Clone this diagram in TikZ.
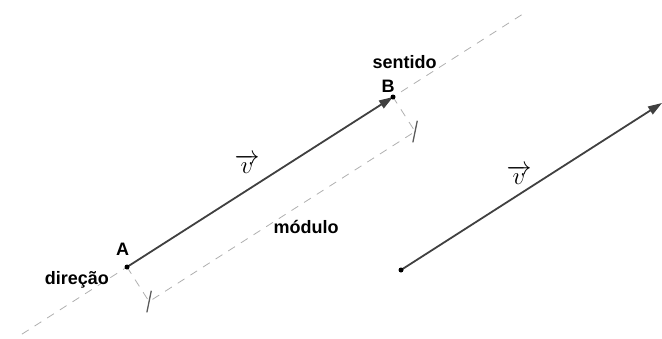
\documentclass[tikz,border=0pt]{standalone}
\usepackage{fontspec}
\newfontfamily\lblfont{Liberation Sans}
\definecolor{vecgray}{HTML}{404040}
\definecolor{dashgray}{HTML}{AFAFAF}
\definecolor{tickgray}{HTML}{5A5A5A}
\usetikzlibrary{arrows.meta,positioning,calc}

\begin{document}
\begin{tikzpicture}[x=1pt,y=-1pt,
  lbl/.style={font=\lblfont\bfseries\fontsize{18}{20}\selectfont,inner sep=0pt},
  vlbl/.style={font=\fontsize{24}{26}\selectfont,inner sep=0pt},
  vec/.style={draw=vecgray,line width=1.8pt,-{Triangle[length=14pt,width=9pt]}},
  guide/.style={draw=dashgray,line width=0.8pt,dash pattern=on 8pt off 7pt},
  tickmark/.style={draw=tickgray,line width=1.3pt},
  dot/.style={circle,fill=black,inner sep=0pt,minimum size=5pt}]
  \useasboundingbox (0,0) rectangle (662,338);
  \coordinate (A) at (127,267);
  \coordinate (B) at (393,97);
  \coordinate (Ap) at ($(A)!41pt!-90:(B)$);
  \coordinate (Bp) at ($(B)!41pt!90:(A)$);
  \coordinate (C) at (401,270);
  \coordinate (D) at (662,103);
  % reta suporte e segmento do modulo
  \draw[guide] ($(A)!-0.395!(B)$) -- ($(A)!1.485!(B)$);
  \draw[guide] (A) -- (Ap) -- (Bp) -- (B);
  \draw[tickmark] ([shift={(2.2,-10.8)}]Ap) -- ([shift={(-2.2,10.8)}]Ap);
  \draw[tickmark] ([shift={(2.2,-10.8)}]Bp) -- ([shift={(-2.2,10.8)}]Bp);
  % vetores
  \draw[vec] (A) -- (B);
  \draw[vec] (C) -- (D);
  \node[dot] (a) at (A) {};
  \node[dot] (b) at (B) {};
  \node[dot] (c) at (C) {};
  % rotulos
  \node[lbl,anchor=base] (labA) at ($(A)+(-4.5,-12)$) {A};
  \node[lbl,anchor=base east] (labdir) at ($(A)+(-18,17)$) {direção};
  \node[lbl,anchor=base] (labB) at ($(B)+(-5,-5)$) {B};
  \node[lbl,above=11pt of labB,xshift=16.5pt] (labsent) {sentido};
  \node[lbl,anchor=base] (labmod) at (306,233) {módulo};
  \node[vlbl] (v1) at (247,164) {$\overrightarrow{\,v\,}$};
  \node[vlbl] (v2) at (519,175) {$\overrightarrow{\,v\,}$};
\end{tikzpicture}
\end{document}
